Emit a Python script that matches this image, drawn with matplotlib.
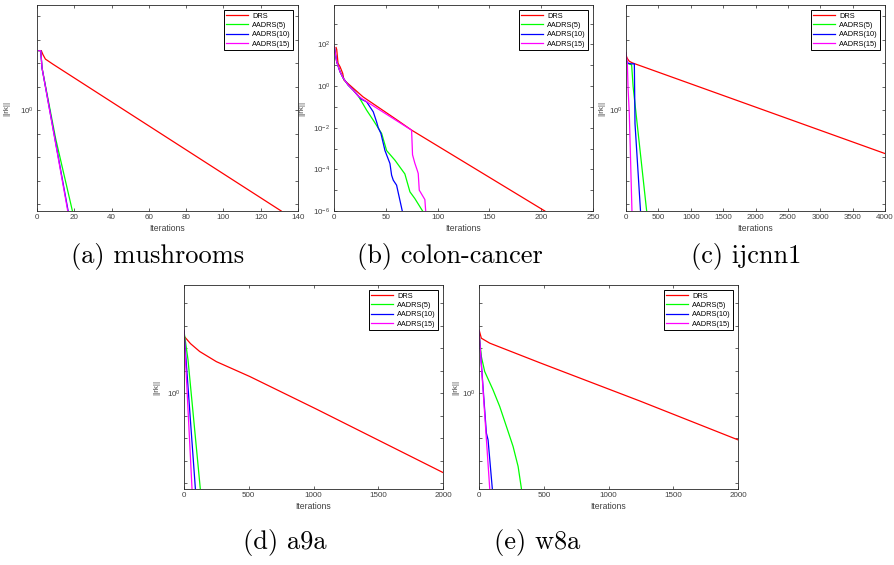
import numpy as np
import matplotlib.pyplot as plt
from matplotlib.ticker import FixedLocator, NullLocator, FuncFormatter

# legend labels and line colours shared by every panel
seriesLabels = ['DRS', 'AADRS(5)', 'AADRS(10)', 'AADRS(15)']
seriesColors = ['#ff0000', '#00ff00', '#0000ff', '#ff00ff']

# iterations and log10 of the residual norm
# (a) mushrooms
mushDrsIt = [1, 2.3, 3.2, 4.5, 8.6, 131]
mushDrsLog = [2.53, 2.53, 2.36, 2.17, 1.95, -4.29]
mushAa5It = [1, 2, 2.7, 10.0, 19]
mushAa5Log = [2.53, 2.53, 1.79, -1.21, -4.29]
mushAa10It = [1, 2, 2.7, 16.7]
mushAa10Log = [2.53, 2.53, 1.79, -4.29]
mushAa15It = [1, 2, 2.7, 16.5]
mushAa15Log = [2.53, 2.53, 1.79, -4.29]

# (b) colon-cancer
colonDrsIt = [2, 2.6, 3.9, 5.8, 8.4, 9.6, 28, 60, 75, 203.5]
colonDrsLog = [1.85, 1.76, 1.09, 0.93, 0.61, 0.29, -0.52, -1.6, -2.12, -6.0]
colonAa5It = [0.3, 1, 2.6, 5.8, 9, 13.8, 18.6, 23.5, 31.5, 37.9, 46, 50.8, 58.8, 68.4, 73.3, 78, 85.5]
colonAa5Log = [1.89, 1.65, 1.17, 0.69, 0.37, 0.04, -0.2, -0.48, -1.16, -1.64, -2.28, -3.1, -3.56, -4.22, -5.08, -5.4, -6.0]
colonAa10It = [0.3, 1, 2.6, 5.8, 9, 13.8, 18.6, 23.5, 26.7, 31.5, 34.7, 37.9, 41.1, 42.7, 45.3, 49.2, 54, 55.6, 57.2, 60.4, 65.9]
colonAa10Log = [1.89, 1.65, 1.17, 0.69, 0.37, 0.04, -0.2, -0.48, -0.64, -0.76, -1.0, -1.24, -1.72, -2.0, -2.28, -3.1, -3.72, -4.28, -4.52, -4.76, -6.0]
colonAa15It = [0.3, 1, 2.6, 5.8, 9, 13.8, 18.6, 23.5, 26.7, 74.9, 75.8, 78, 80.3, 81.3, 82.3, 87.7, 88.5]
colonAa15Log = [1.89, 1.65, 1.17, 0.69, 0.37, 0.04, -0.2, -0.48, -0.6, -2.12, -3.3, -3.7, -4.04, -4.2, -5.0, -5.45, -6.0]

# (c) ijcnn1
ijcDrsIt = [0, 20, 50, 100, 4000]
ijcDrsLog = [2.34, 2.2, 2.08, 2.01, -1.84]
ijcAa5It = [0, 20, 60, 87, 110, 319]
ijcAa5Log = [2.2, 2.0, 1.95, 1.93, 1.0, -4.28]
ijcAa10It = [0, 30, 80, 129, 139, 224]
ijcAa10Log = [2.13, 2.0, 1.97, 1.97, -0.57, -4.28]
ijcAa15It = [0, 5, 21, 31, 51, 92]
ijcAa15Log = [2.45, 2.3, 1.99, 0.99, -0.14, -4.28]

# (d) a9a
a9aDrsIt = [5, 50, 121, 250, 508, 1024, 2000]
a9aDrsLog = [2.5, 2.2, 1.85, 1.4, 0.74, -0.71, -3.52]
a9aAa5It = [0, 31, 126]
a9aAa5Log = [2.75, 1.48, -4.25]
a9aAa10It = [0, 88]
a9aAa10Log = [2.75, -4.25]
a9aAa15It = [0, 62]
a9aAa15Log = [2.8, -4.25]

# (e) w8a
w8aDrsIt = [3, 18, 83, 470, 1244, 2000]
w8aDrsLog = [2.76, 2.44, 2.22, 1.35, -0.35, -2.07]
w8aAa5It = [0, 18, 44, 108, 160, 212, 263, 302, 328]
w8aAa5Log = [2.73, 1.63, 0.96, 0.15, -0.59, -1.48, -2.36, -3.25, -4.25]
w8aAa10It = [0, 57, 70, 103]
w8aAa10Log = [2.73, -1.77, -2.07, -4.25]
w8aAa15It = [0, 83]
w8aAa15Log = [2.8, -4.25]

W, H = 895, 565
plt.rcParams['font.family'] = ['Liberation Sans', 'DejaVu Sans']
plt.rcParams['mathtext.default'] = 'regular'
axisColor = '#262626'
labelColor = '#404040'

fig = plt.figure(figsize=(W / 100, H / 100), dpi=100)


def pixelRect(left, top, right, bottom):
    return [left / W, 1 - bottom / H, (right - left) / W, (bottom - top) / H]


def drawPanel(rect, series, xMax, xStep, yLow, yHigh, labelled, ylabelX):
    ax = fig.add_axes(pixelRect(*rect))
    for (its, logs), label, color in zip(series, seriesLabels, seriesColors):
        ax.semilogy(its, 10.0 ** np.array(logs), color=color, lw=0.9, label=label)

    ax.set_xlim(0, xMax)
    ax.set_xticks(np.arange(0, xMax + 1, xStep))
    ax.set_ylim(10.0 ** yLow, 10.0 ** yHigh)
    exps = range(int(np.ceil(yLow)), int(np.floor(yHigh)) + 1)
    ax.yaxis.set_major_locator(FixedLocator([10.0 ** e for e in exps]))
    ax.yaxis.set_minor_locator(NullLocator())

    def fmt(v, pos):
        e = int(round(np.log10(v)))
        return '$10^{%d}$' % e if e in labelled else ''
    ax.yaxis.set_major_formatter(FuncFormatter(fmt))

    ax.tick_params(direction='in', top=True, right=True, length=2.5, width=0.5,
                   color=axisColor, labelcolor=labelColor, labelsize=5.8, pad=2.5)
    for spine in ax.spines.values():
        spine.set_color(axisColor)
        spine.set_linewidth(0.6)

    ax.set_xlabel('Iterations', fontsize=6.2, color=labelColor, labelpad=2)
    ax.set_ylabel('||rk||', fontsize=5.8, color=labelColor)
    ax.yaxis.set_label_coords(ylabelX, 0.5)

    leg = ax.legend(loc='upper right', fontsize=5.3, fancybox=False, framealpha=1,
                    edgecolor='black', borderaxespad=0.7, handlelength=3.0,
                    labelspacing=0.3, borderpad=0.3, handletextpad=0.5)
    leg.get_frame().set_linewidth(0.7)
    return ax


drawPanel((37, 5, 298, 211),
          [(mushDrsIt, mushDrsLog), (mushAa5It, mushAa5Log),
           (mushAa10It, mushAa10Log), (mushAa15It, mushAa15Log)],
          140, 20, -4.29, 4.47, [0], -0.103)
drawPanel((334, 5, 593, 211),
          [(colonDrsIt, colonDrsLog), (colonAa5It, colonAa5Log),
           (colonAa10It, colonAa10Log), (colonAa15It, colonAa15Log)],
          250, 50, -6.0, 3.89, [2, 0, -2, -4, -6], -0.11)
drawPanel((626, 5, 885, 211),
          [(ijcDrsIt, ijcDrsLog), (ijcAa5It, ijcAa5Log),
           (ijcAa10It, ijcAa10Log), (ijcAa15It, ijcAa15Log)],
          4000, 500, -4.28, 4.47, [0], -0.08)
drawPanel((184, 285, 443, 489),
          [(a9aDrsIt, a9aDrsLog), (a9aAa5It, a9aAa5Log),
           (a9aAa10It, a9aAa10Log), (a9aAa15It, a9aAa15Log)],
          2000, 500, -4.25, 4.8, [0], -0.09)
drawPanel((479, 285, 738, 489),
          [(w8aDrsIt, w8aDrsLog), (w8aAa5It, w8aAa5Log),
           (w8aAa10It, w8aAa10Log), (w8aAa15It, w8aAa15Log)],
          2000, 500, -4.25, 4.8, [0], -0.075)

# sub-figure captions
captions = ['(a) mushrooms', '(b) colon-cancer', '(c) ijcnn1', '(d) a9a', '(e) w8a']
captionX = [158, 450, 746, 285, 537]
captionY = [257, 257, 257, 542, 542]
for text, cx, cy in zip(captions, captionX, captionY):
    fig.text(cx / W, 1 - cy / H, text, ha='center', va='center',
             family='cmr10', fontsize=19, color='black')

plt.savefig('out.png', dpi=100)
